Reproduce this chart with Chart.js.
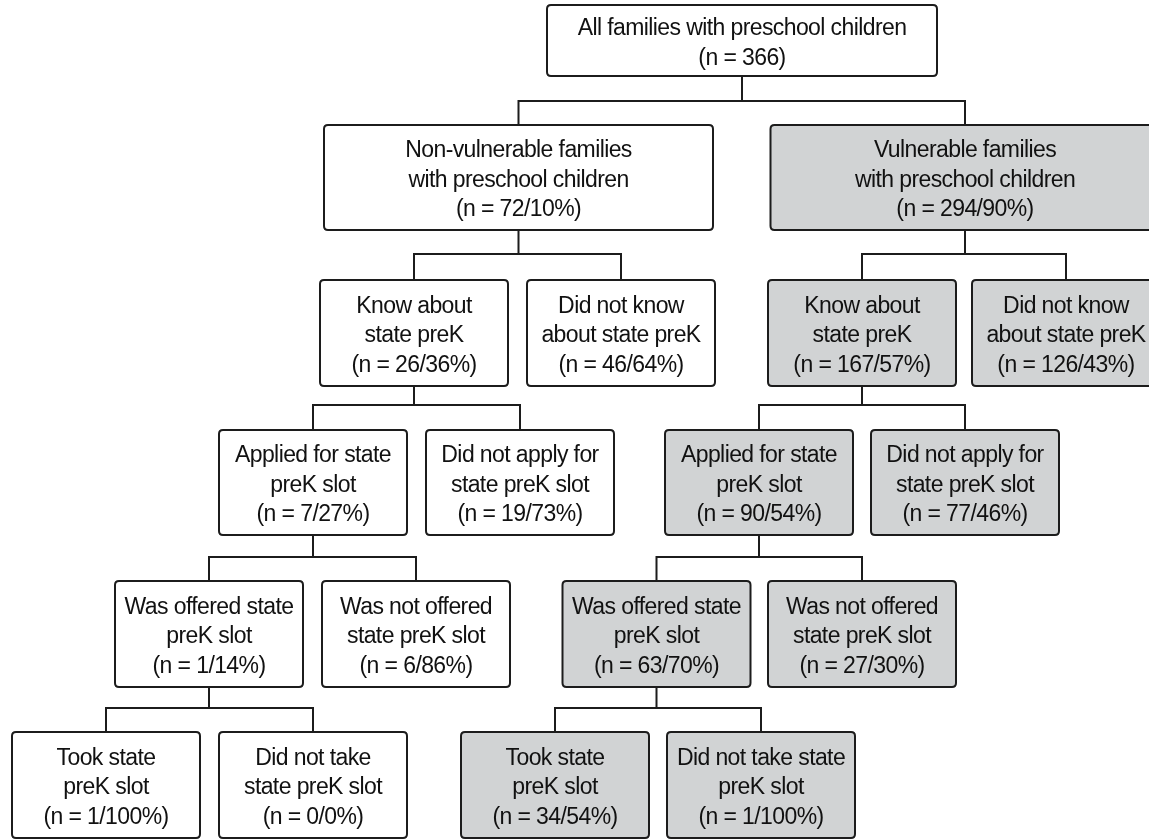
<!DOCTYPE html>
<html>
<head>
<meta charset="utf-8">
<script src="https://cdn.jsdelivr.net/npm/chart.js@4.4.1/dist/chart.umd.min.js"></script>
<style>
  html, body { margin: 0; padding: 0; background: #ffffff; }
  #wrap { width: 1149px; height: 840px; }
</style>
</head>
<body>
<div id="wrap"><canvas id="treeChart" width="1149" height="840"></canvas></div>
<script>
// Tree of families with preschool children -> knowledge / application / offer / uptake.
// Node data (labels and counts) first, layout separately below.
const nodeTitles = [
  ['All families with preschool children'],
  ['Non-vulnerable families', 'with preschool children'],
  ['Vulnerable families', 'with preschool children'],
  ['Know about', 'state preK'],
  ['Did not know', 'about state preK'],
  ['Know about', 'state preK'],
  ['Did not know', 'about state preK'],
  ['Applied for state', 'preK slot'],
  ['Did not apply for', 'state preK slot'],
  ['Applied for state', 'preK slot'],
  ['Did not apply for', 'state preK slot'],
  ['Was offered state', 'preK slot'],
  ['Was not offered', 'state preK slot'],
  ['Was offered state', 'preK slot'],
  ['Was not offered', 'state preK slot'],
  ['Took state', 'preK slot'],
  ['Did not take', 'state preK slot'],
  ['Took state', 'preK slot'],
  ['Did not take state', 'preK slot'],
];
const nodeCounts = [366, 72, 294, 26, 46, 167, 126, 7, 19, 90, 77, 1, 6, 63, 27, 1, 0, 34, 1];
const nodeShares = [null, 10, 90, 36, 64, 57, 43, 27, 73, 54, 46, 14, 86, 70, 30, 100, 0, 54, 100];
const nodeParents = [-1, 0, 0, 1, 1, 2, 2, 3, 3, 5, 5, 7, 7, 9, 9, 11, 11, 13, 13];
const nodeVulnerable = [false, false, true, false, false, true, true, false, false, true, true,
  false, false, true, true, false, false, true, true];

// Layout (in the chart's own x/y units, 0..1149 and 0..840 from the top)
const nodeLevel = [0, 1, 1, 2, 2, 2, 2, 3, 3, 3, 3, 4, 4, 4, 4, 5, 5, 5, 5];
const nodeCenterX = [742, 518.5, 965, 414, 621, 862, 1066, 313, 520, 759, 965,
  209, 416, 656.5, 862, 106, 313, 555, 761];
const levelTop = [5, 125, 280, 430, 581, 732];
const levelHeight = [71, 105, 106, 105, 106, 106];
const levelWidth = [390, 389, 188, 188, 188, 188];
const busY = [101, 254, 405, 557, 708];

function nodeLines(i) {
  const last = nodeShares[i] === null
    ? '(n = ' + nodeCounts[i] + ')'
    : '(n = ' + nodeCounts[i] + '/' + nodeShares[i] + '%)';
  return nodeTitles[i].concat([last]);
}

// one polyline per family: child1 top -> bus -> parent stem -> bus -> child2 top
function buildConnectorDatasets() {
  const sets = [];
  nodeParents.forEach((p, i) => {
    if (p < 0) return;
    const siblings = nodeParents.map((q, j) => (q === p ? j : -1)).filter((j) => j >= 0);
    if (siblings[0] !== i) return;
    const [a, b] = siblings;
    const lvl = nodeLevel[p];
    const pBottom = levelTop[lvl] + levelHeight[lvl];
    const cTop = levelTop[lvl + 1];
    const bus = busY[lvl];
    sets.push({
      type: 'line',
      data: [
        { x: nodeCenterX[a], y: cTop },
        { x: nodeCenterX[a], y: bus },
        { x: nodeCenterX[p], y: bus },
        { x: nodeCenterX[p], y: pBottom },
        { x: nodeCenterX[p], y: bus },
        { x: nodeCenterX[b], y: bus },
        { x: nodeCenterX[b], y: cTop },
      ],
      borderColor: '#1c1c1c',
      borderWidth: 2,
      pointRadius: 0,
      tension: 0,
      fill: false,
      borderJoinStyle: 'miter',
    });
  });
  return sets;
}

function roundRect(ctx, x, y, w, h, r) {
  ctx.beginPath();
  ctx.moveTo(x + r, y);
  ctx.lineTo(x + w - r, y);
  ctx.quadraticCurveTo(x + w, y, x + w, y + r);
  ctx.lineTo(x + w, y + h - r);
  ctx.quadraticCurveTo(x + w, y + h, x + w - r, y + h);
  ctx.lineTo(x + r, y + h);
  ctx.quadraticCurveTo(x, y + h, x, y + h - r);
  ctx.lineTo(x, y + r);
  ctx.quadraticCurveTo(x, y, x + r, y);
  ctx.closePath();
}

const boxPlugin = {
  id: 'treeBoxes',
  afterDatasetsDraw(chart) {
    const ctx = chart.ctx;
    const xs = chart.scales.x;
    const ys = chart.scales.y;
    ctx.save();
    nodeCounts.forEach((n, i) => {
      const lvl = nodeLevel[i];
      const left = xs.getPixelForValue(nodeCenterX[i] - levelWidth[lvl] / 2);
      const right = xs.getPixelForValue(nodeCenterX[i] + levelWidth[lvl] / 2);
      const top = ys.getPixelForValue(levelTop[lvl]);
      const bottom = ys.getPixelForValue(levelTop[lvl] + levelHeight[lvl]);
      roundRect(ctx, left, top, right - left, bottom - top, 4);
      ctx.fillStyle = nodeVulnerable[i] ? '#d1d3d4' : '#ffffff';
      ctx.fill();
      ctx.lineWidth = 2;
      ctx.strokeStyle = '#1c1c1c';
      ctx.stroke();

      const lines = nodeLines(i);
      const lineGap = 29.5;
      const cx = (left + right) / 2;
      const cy = (top + bottom) / 2 + 3;
      ctx.fillStyle = '#111111';
      ctx.font = '23px "Liberation Sans", Arial, sans-serif';
      ctx.letterSpacing = '-0.6px';
      ctx.textAlign = 'center';
      ctx.textBaseline = 'middle';
      lines.forEach((t, k) => {
        ctx.fillText(t, cx, cy + (k - (lines.length - 1) / 2) * lineGap);
      });
    });
    ctx.restore();
  },
};

new Chart(document.getElementById('treeChart'), {
  type: 'scatter',
  data: { datasets: buildConnectorDatasets() },
  options: {
    responsive: false,
    animation: false,
    layout: { padding: 0 },
    plugins: { legend: { display: false }, tooltip: { enabled: false } },
    scales: {
      x: { type: 'linear', min: 0, max: 1149, display: false },
      y: { type: 'linear', min: 0, max: 840, reverse: true, display: false },
    },
  },
  plugins: [boxPlugin],
});
</script>
</body>
</html>
